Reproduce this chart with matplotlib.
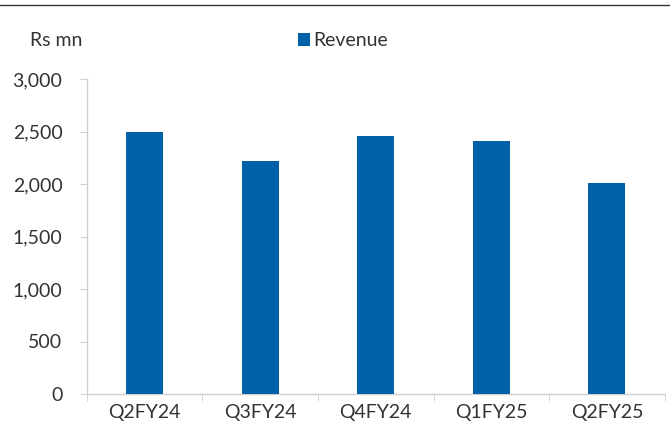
import matplotlib
matplotlib.use("Agg")
import matplotlib.pyplot as plt
from matplotlib.lines import Line2D
import numpy as np

categories = ["Q2FY24", "Q3FY24", "Q4FY24", "Q1FY25", "Q2FY25"]
revenue = [2495, 2220, 2460, 2405, 2010]
yticks = [0, 500, 1000, 1500, 2000, 2500, 3000]
ytick_labels = ["0", "500", "1,000", "1,500", "2,000", "2,500", "3,000"]

plt.rcParams['font.family'] = ['Lato', 'DejaVu Sans']
text_color = '#333333'
bar_color = '#0061a8'
spine_color = '#d0d0d0'
fs = 14

fig = plt.figure(figsize=(6.7, 4.3), dpi=100)
ax = fig.add_axes([86.7/670, 1-394/430, (664.7-86.7)/670, (394-79)/430])

x = np.arange(len(categories))
ax.bar(x, revenue, width=0.32, color=bar_color, label="Revenue", zorder=3)

ax.set_xlim(-0.5, len(categories)-0.5)
ax.set_ylim(0, 3000)
ax.set_yticks(yticks)
ax.set_yticklabels(ytick_labels)
ax.set_xticks(x)
ax.set_xticklabels(categories)
ax.set_xticks(np.arange(-0.5, len(categories)), minor=True)

for s in ['top', 'right']:
    ax.spines[s].set_visible(False)
for s in ['left', 'bottom']:
    ax.spines[s].set_color(spine_color)
    ax.spines[s].set_linewidth(1.0)

ax.tick_params(axis='y', length=5, color=spine_color, labelcolor=text_color, labelsize=fs, pad=12.5)
ax.tick_params(axis='x', which='major', length=0, labelcolor=text_color, labelsize=fs, pad=7.5)
ax.tick_params(axis='x', which='minor', length=5, color=spine_color)

fig.text(30/670, 1-41/430, "Rs mn", color=text_color, fontsize=fs, va='center', ha='left')

fig.legend(loc='center left', bbox_to_anchor=(298/670, 1-41/430), frameon=False,
           handlelength=0.6, handleheight=0.6, handletextpad=0.2, fontsize=fs,
           labelcolor=text_color, borderaxespad=0, borderpad=0)

fig.add_artist(Line2D([0, 1], [1-5/430, 1-5/430], transform=fig.transFigure, color='#333333', linewidth=1.0))

fig.savefig("out.png", dpi=100)
